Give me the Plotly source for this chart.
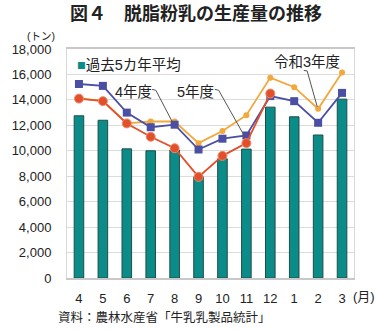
import plotly.graph_objects as go

months = ["4", "5", "6", "7", "8", "9", "10", "11", "12", "1", "2", "3"]
avg5 = [12750, 12400, 10150, 10000, 10060, 7950, 9370, 10130, 13430, 12670, 11240, 14060]
r3 = [14100, 13950, 12150, 12300, 12300, 10600, 11550, 12800, 15750, 15000, 13300, 16150]
r4 = [15250, 15100, 13000, 11850, 12050, 10100, 10950, 11200, 14300, 13900, 12200, 14550]
r5 = [14100, 13900, 12150, 11100, 10200, 7950, 9600, 10600, 14500]

FONT = "Liberation Sans, Noto Sans CJK JP, sans-serif"
TEAL = "#0b8c88"
BLUE = "#4a4fa3"
RED = "#e2502b"
ORANGE = "#f2a83a"

L, R, T, B = 57, 26, 48.5, 52.7
W, H = 380, 331
pw, ph = W - L - R, H - T - B


def px(x, y):
    return (x - L) / pw, 1 - (y - T) / ph


fig = go.Figure()
fig.add_trace(go.Bar(x=months, y=avg5, width=0.4, marker=dict(color=TEAL, line=dict(color="#1d4d4b", width=1)),
                     showlegend=False))
fig.add_trace(go.Scatter(x=months, y=r3, mode="lines+markers", line=dict(color=ORANGE, width=1.8),
                         marker=dict(symbol="circle", size=6, color=ORANGE), showlegend=False))
fig.add_trace(go.Scatter(x=months, y=r4, mode="lines+markers", line=dict(color=BLUE, width=1.8),
                         marker=dict(symbol="square", size=8, color=BLUE), showlegend=False))
fig.add_trace(go.Scatter(x=months[:len(r5)], y=r5, mode="lines+markers", line=dict(color=RED, width=1.8),
                         marker=dict(symbol="circle", size=9, color=RED, line=dict(color="#f08a6a", width=1)),
                         showlegend=False))

# leader lines from labels to series
shapes = []
for pts in [[(145, 89), (149, 90), (167, 123.5)],
            [(210, 89), (214, 90), (241, 136.5)],
            [(302, 70), (305.5, 70.5), (316, 106.5)]]:
    for (x0, y0), (x1, y1) in zip(pts[:-1], pts[1:]):
        a0, b0 = px(x0, y0)
        a1, b1 = px(x1, y1)
        shapes.append(dict(type="line", xref="paper", yref="paper", x0=a0, y0=b0, x1=a1, y1=b1,
                           line=dict(color="#555", width=1)))

annots = []
texts = [
    (190, 13, "<b>図４　脱脂粉乳の生産量の推移</b>", 18),
    (30, 35, "(トン)", 10.5),
    (364, 297, "(月)", 13),
    (158, 318, "資料：農林水産省「牛乳乳製品統計」", 12.5),
    (126, 92, "4年度", 14.5),
    (190, 92, "5年度", 14.5),
    (305, 62, "令和3年度", 14.5),
    (121, 65, "<span style='color:%s'>■</span>過去5カ年平均" % TEAL, 14.5),
]
for x, y, t, s in texts:
    xp, yp = px(x, y)
    annots.append(dict(x=xp, y=yp, xref="paper", yref="paper", text=t, showarrow=False,
                       xanchor="center", yanchor="middle", font=dict(size=s, color="#222", family=FONT)))

fig.update_layout(
    width=W, height=H,
    margin=dict(l=L, r=R, t=T, b=B),
    paper_bgcolor="white", plot_bgcolor="white",
    font=dict(family=FONT, size=13, color="#222"),
    annotations=annots,
    shapes=shapes,
    xaxis=dict(type="category", range=[-0.5, 11.5], showgrid=False, showline=True, linecolor="#c8c8c8",
               linewidth=1.5, mirror=True, ticks="", tickfont=dict(size=13, color="#222"),
               ticklabelstandoff=8),
    yaxis=dict(range=[0, 18000], dtick=2000, tickformat=",d", showgrid=True, gridcolor="#dcdcdc",
               gridwidth=1, showline=True, linecolor="#d8d8d8", mirror=True, zeroline=False,
               ticks="", tickfont=dict(size=13, color="#222"), ticklabelstandoff=12),
)

fig.write_html("out.html")
